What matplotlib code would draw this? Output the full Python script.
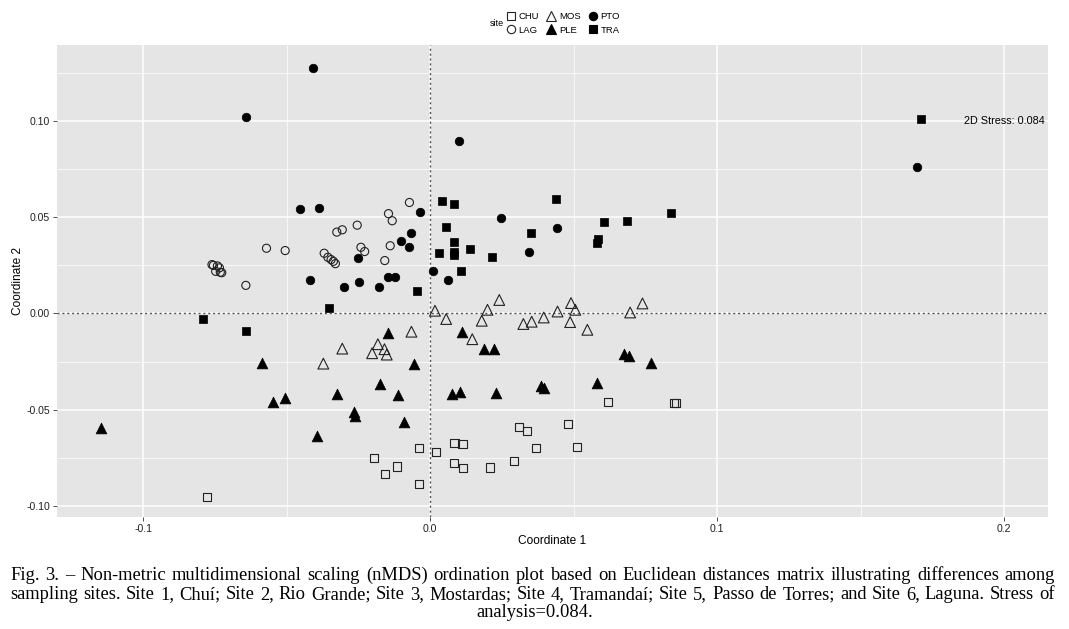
import matplotlib
matplotlib.use("Agg")
import matplotlib.pyplot as plt
from matplotlib.lines import Line2D

# ---------------- data ----------------
pto_x = [-0.0408, -0.0641, 0.0101, 0.1697, -0.0454, -0.0388, -0.0036, -0.0066, -0.0100, -0.0072,
         -0.0252, -0.0418, -0.0299, -0.0248, -0.0179, -0.0145, -0.0123, 0.0009, 0.0247, 0.0441,
         0.0345, 0.0064]
pto_y = [0.1276, 0.1021, 0.0896, 0.0760, 0.0541, 0.0550, 0.0527, 0.0417, 0.0378, 0.0344,
         0.0289, 0.0174, 0.0136, 0.0162, 0.0139, 0.0190, 0.0188, 0.0223, 0.0496, 0.0443,
         0.0317, 0.0172]

tra_x = [0.1711, 0.0043, 0.0083, 0.0439, 0.0839, 0.0606, 0.0685, 0.0057, 0.0353, 0.0083,
         0.0586, 0.0583, 0.0031, 0.0083, 0.0083, 0.0139, 0.0217, 0.0109, -0.0044, -0.0353,
         -0.0793, -0.0640]
tra_y = [0.1010, 0.0583, 0.0571, 0.0595, 0.0524, 0.0477, 0.0482, 0.0452, 0.0417, 0.0370,
         0.0388, 0.0364, 0.0313, 0.0322, 0.0303, 0.0334, 0.0291, 0.0223, 0.0115, 0.0028,
         -0.0031, -0.0089]

lag_x = [-0.0072, -0.0145, -0.0132, -0.0254, -0.0306, -0.0325, -0.0139, -0.0241, -0.0228, -0.0570,
         -0.0505, -0.0369, -0.0356, -0.0345, -0.0337, -0.0330, -0.0158, -0.0760, -0.0755, -0.0741,
         -0.0734, -0.0747, -0.0731, -0.0726, -0.0642]
lag_y = [0.0577, 0.0519, 0.0482, 0.0459, 0.0435, 0.0423, 0.0352, 0.0344, 0.0322, 0.0339,
         0.0327, 0.0313, 0.0292, 0.0280, 0.0271, 0.0259, 0.0275, 0.0254, 0.0250, 0.0247,
         0.0237, 0.0219, 0.0214, 0.0212, 0.0146]

mos_x = [0.0017, 0.0056, 0.0241, 0.0200, 0.0180, 0.0147, 0.0325, 0.0354, 0.0396, 0.0444,
         0.0491, 0.0506, 0.0488, 0.0548, 0.0697, 0.0740, -0.0065, -0.0306, -0.0182, -0.0159,
         -0.0202, -0.0151, -0.0372]
mos_y = [0.0014, -0.0029, 0.0070, 0.0019, -0.0038, -0.0134, -0.0055, -0.0043, -0.0021, 0.0010,
         0.0054, 0.0019, -0.0045, -0.0085, 0.0005, 0.0052, -0.0095, -0.0183, -0.0160, -0.0186,
         -0.0207, -0.0214, -0.0261]

ple_x = [-0.0146, -0.0586, -0.0055, -0.0174, -0.0324, -0.0111, -0.0547, -0.0504, -0.0265, -0.0262,
         -0.0090, -0.0395, 0.0077, 0.0105, 0.0230, 0.0110, 0.0189, 0.0221, 0.0674, 0.0692,
         0.0769, 0.0581, 0.0387, 0.0397, -0.1146]
ple_y = [-0.0101, -0.0256, -0.0261, -0.0368, -0.0417, -0.0426, -0.0462, -0.0441, -0.0511, -0.0534,
         -0.0567, -0.0638, -0.0419, -0.0411, -0.0412, -0.0094, -0.0186, -0.0186, -0.0209, -0.0221,
         -0.0256, -0.0363, -0.0377, -0.0388, -0.0596]

chu_x = [-0.0039, -0.0196, -0.0114, -0.0156, -0.0038, 0.0022, 0.0085, 0.0113, 0.0084, 0.0114,
         0.0208, 0.0293, 0.0311, 0.0339, 0.0369, 0.0481, 0.0513, 0.0619, 0.0856, 0.0851,
         -0.0777]
chu_y = [-0.0702, -0.0751, -0.0796, -0.0835, -0.0888, -0.0721, -0.0676, -0.0680, -0.0780, -0.0806,
         -0.0801, -0.0765, -0.0591, -0.0613, -0.0699, -0.0575, -0.0694, -0.0461, -0.0464, -0.0464,
         -0.0956]

site_labels = ["CHU", "LAG", "MOS", "PLE", "PTO", "TRA"]
stress_text = "2D Stress: 0.084"
x_ticks = [-0.1, 0.0, 0.1, 0.2]
x_tick_labels = ["-0.1", "0.0", "0.1", "0.2"]
y_ticks = [-0.10, -0.05, 0.00, 0.05, 0.10]
y_tick_labels = ["-0.10", "-0.05", "0.00", "0.05", "0.10"]

caption_lines = [
    "Fig. 3. \u2013 Non-metric multidimensional scaling (nMDS) ordination plot based on Euclidean distances matrix illustrating differences among",
    "sampling sites. Site 1, Chu\u00ed; Site 2, Rio Grande; Site 3, Mostardas; Site 4, Tramanda\u00ed; Site 5, Passo de Torres; and Site 6, Laguna. Stress of",
    "analysis=0.084.",
]

plt.rcParams["font.family"] = ["Liberation Sans", "DejaVu Sans"]

# ---------------- figure ----------------
W, H = 1069, 629
fig = plt.figure(figsize=(W / 100, H / 100), dpi=100)
fig.patch.set_facecolor("white")
ax = fig.add_axes([57 / W, 1 - 516.7 / H, (1048 - 57) / W, (516.7 - 45) / H])
ax.set_facecolor("#E5E5E5")
ax.set_xlim(-0.130, 0.2153)
ax.set_ylim(-0.1057, 0.1396)

for s in ax.spines.values():
    s.set_visible(False)

# grids
for v in [-0.05, 0.05, 0.15]:
    ax.axvline(v, color="white", lw=0.5, zorder=0.5)
for v in [-0.075, -0.025, 0.025, 0.075, 0.125]:
    ax.axhline(v, color="white", lw=0.5, zorder=0.5)
for v in x_ticks:
    ax.axvline(v, color="white", lw=1.1, zorder=0.6)
for v in y_ticks:
    ax.axhline(v, color="white", lw=1.1, zorder=0.6)

ax.axvline(0, color="#555555", lw=1.0, ls=(0, (1.5, 2.0)), zorder=1)
ax.axhline(0, color="#555555", lw=1.0, ls=(0, (1.5, 2.0)), zorder=1)

ax.set_xticks(x_ticks)
ax.set_xticklabels(x_tick_labels)
ax.set_yticks(y_ticks)
ax.set_yticklabels(y_tick_labels)
ax.tick_params(axis="both", length=3, width=0.6, color="#333333", labelsize=7.6,
               labelcolor="#222222", pad=2)
ax.set_xlabel("Coordinate 1", fontsize=8.6, labelpad=1, color="black")
ax.set_ylabel("Coordinate 2", fontsize=8.6, labelpad=2, color="black")

edge = "#222222"
ax.scatter(chu_x, chu_y, marker="s", s=34, facecolors="none", edgecolors=edge, linewidths=0.8, zorder=3)
ax.scatter(lag_x, lag_y, marker="o", s=34, facecolors="none", edgecolors=edge, linewidths=0.8, zorder=3)
ax.scatter(mos_x, mos_y, marker="^", s=60, facecolors="none", edgecolors=edge, linewidths=0.8, zorder=3)
ax.scatter(ple_x, ple_y, marker="^", s=60, facecolors="black", edgecolors="black", linewidths=0.5, zorder=3)
ax.scatter(pto_x, pto_y, marker="o", s=38, facecolors="black", edgecolors="black", linewidths=0.5, zorder=3)
ax.scatter(tra_x, tra_y, marker="s", s=38, facecolors="black", edgecolors="black", linewidths=0.5, zorder=3)

ax.text(0.2, 0.1, stress_text, ha="center", va="center", fontsize=7.8, color="black", zorder=4)

# legend
styles = [
    dict(marker="s", mfc="none", mec=edge, ms=6),
    dict(marker="o", mfc="none", mec=edge, ms=6),
    dict(marker="^", mfc="none", mec=edge, ms=7.5),
    dict(marker="^", mfc="black", mec="black", ms=7.5),
    dict(marker="o", mfc="black", mec="black", ms=6),
    dict(marker="s", mfc="black", mec="black", ms=6),
]
handles = [Line2D([], [], ls="none", mew=0.8, label=lab, **st) for lab, st in zip(site_labels, styles)]
fig.legend(handles=handles, ncol=3, loc="center", bbox_to_anchor=(563 / W, 1 - 23.5 / H),
           frameon=False, fontsize=6.8, handlelength=1.0, handletextpad=0.3,
           columnspacing=0.8, labelspacing=0.45, borderpad=0)
fig.text(497 / W, 1 - 23.5 / H, "site", ha="center", va="center", fontsize=6.5)

# caption (justified lines)
renderer = fig.canvas.get_renderer()
x0, x1 = 10, 1055
naturals = []
for line in caption_lines[:2]:
    probe = fig.text(0, 0, line, fontsize=10, family="Liberation Serif")
    naturals.append(probe.get_window_extent(renderer).width)
    probe.remove()
cap_size = 10 * (x1 - x0 - 12) / max(naturals)
cap_kw = dict(fontsize=cap_size, family="Liberation Serif", va="baseline", color="black")
baselines = [580, 599, 617]
for i, line in enumerate(caption_lines[:2]):
    words = line.split(" ")
    texts = [fig.text(0, 1 - baselines[i] / H, w, **cap_kw) for w in words]
    widths = [t.get_window_extent(renderer).width for t in texts]
    gap = (x1 - x0 - sum(widths)) / (len(words) - 1)
    x = x0
    for t, w in zip(texts, widths):
        t.set_x(x / W)
        x += w + gap
fig.text(535 / W, 1 - baselines[2] / H, caption_lines[2], ha="center", **cap_kw)

fig.savefig("out.png", dpi=100)
